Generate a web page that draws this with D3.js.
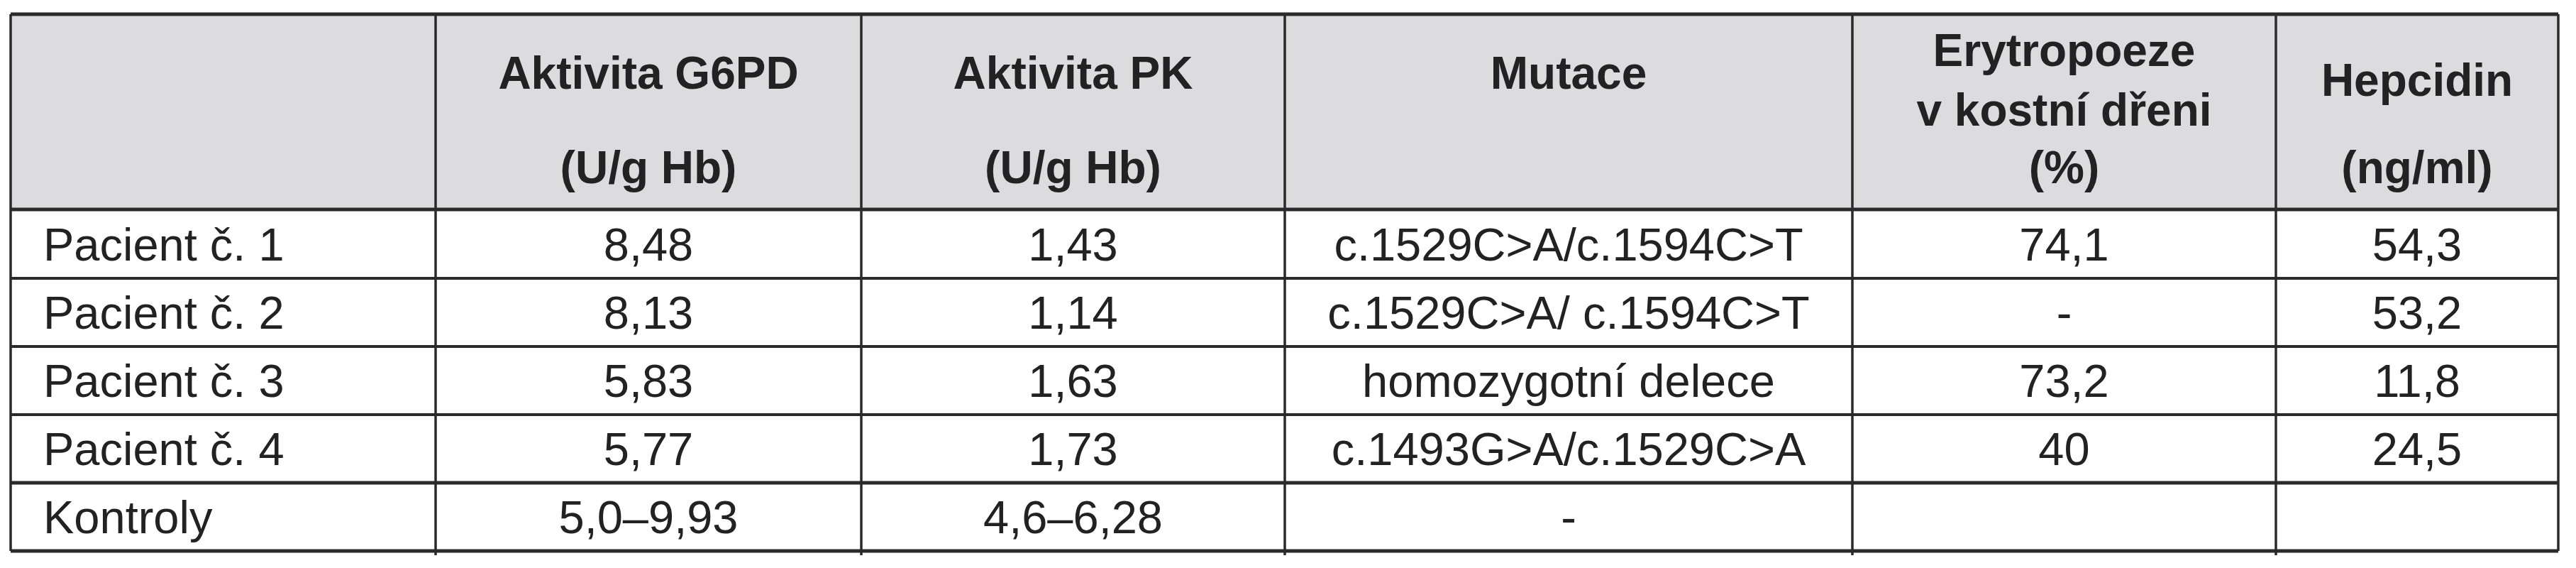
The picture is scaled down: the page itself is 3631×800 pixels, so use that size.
<!DOCTYPE html>
<html><head><meta charset="utf-8">
<script src="https://cdn.jsdelivr.net/npm/d3@7"></script>
<style>body{margin:0;background:#fff}</style></head>
<body><svg id="c" width="3631" height="800"></svg>
<script>
const headers = [
  [],
  ["Aktivita G6PD", "(U/g Hb)"],
  ["Aktivita PK", "(U/g Hb)"],
  ["Mutace"],
  ["Erytropoeze", "v kostní dřeni", "(%)"],
  ["Hepcidin", "(ng/ml)"]
];
const rowLabels = ["Pacient č. 1", "Pacient č. 2", "Pacient č. 3", "Pacient č. 4", "Kontroly"];
const g6pd = ["8,48", "8,13", "5,83", "5,77", "5,0–9,93"];
const pk = ["1,43", "1,14", "1,63", "1,73", "4,6–6,28"];
const mutace = ["c.1529C>A/c.1594C>T", "c.1529C>A/ c.1594C>T", "homozygotní delece", "c.1493G>A/c.1529C>A", "-"];
const erytro = ["74,1", "-", "73,2", "40", ""];
const hepcidin = ["54,3", "53,2", "11,8", "24,5", ""];

const colEdges = [15, 614, 1214, 1811, 2611, 3208, 3606];
const rowEdges = [20, 295, 392, 488, 584, 680, 776];
const headerBaselines = {1: [125, 258], 2: [125, 258], 3: [125], 4: [93, 177, 258], 5: [135, 258]};

const svg = d3.select("#c");
const font = "'Liberation Sans', Arial, sans-serif";
const ink = "#222";

svg.append("rect").attr("x", colEdges[0]).attr("y", rowEdges[0])
  .attr("width", colEdges[6] - colEdges[0]).attr("height", rowEdges[1] - rowEdges[0]).attr("fill", "#dcdcde");

// headers
headers.forEach((lines, ci) => {
  const cx = (colEdges[ci] + colEdges[ci + 1]) / 2;
  lines.forEach((t, li) => {
    svg.append("text").attr("x", cx).attr("y", headerBaselines[ci][li])
      .attr("text-anchor", "middle").attr("font-family", font).attr("font-weight", "bold")
      .attr("font-size", 64).attr("fill", ink).text(t);
  });
});

const cols = [rowLabels, g6pd, pk, mutace, erytro, hepcidin];
cols.forEach((vals, ci) => {
  vals.forEach((v, ri) => {
    const y = (rowEdges[ri + 1] + rowEdges[ri + 2]) / 2 + 23;
    const left = ci === 0;
    svg.append("text")
      .attr("x", left ? colEdges[0] + 46 : (colEdges[ci] + colEdges[ci + 1]) / 2)
      .attr("y", y).attr("text-anchor", left ? "start" : "middle")
      .attr("font-family", font).attr("font-size", 65).attr("fill", ink).text(v);
  });
});

// grid lines
rowEdges.forEach((y, i) => {
  svg.append("line").attr("x1", colEdges[0]).attr("x2", colEdges[6]).attr("y1", y).attr("y2", y)
    .attr("stroke", "#2a2a2a").attr("stroke-width", (i === 0 || i === 1 || i === 5 || i === 6) ? 5 : 4);
});
colEdges.forEach((x, i) => {
  svg.append("line").attr("x1", x).attr("x2", x).attr("y1", rowEdges[0]).attr("y2", rowEdges[6] + (i > 0 && i < 6 ? 6 : 0))
    .attr("stroke", "#2a2a2a").attr("stroke-width", 3.5);
});
</script></body></html>
